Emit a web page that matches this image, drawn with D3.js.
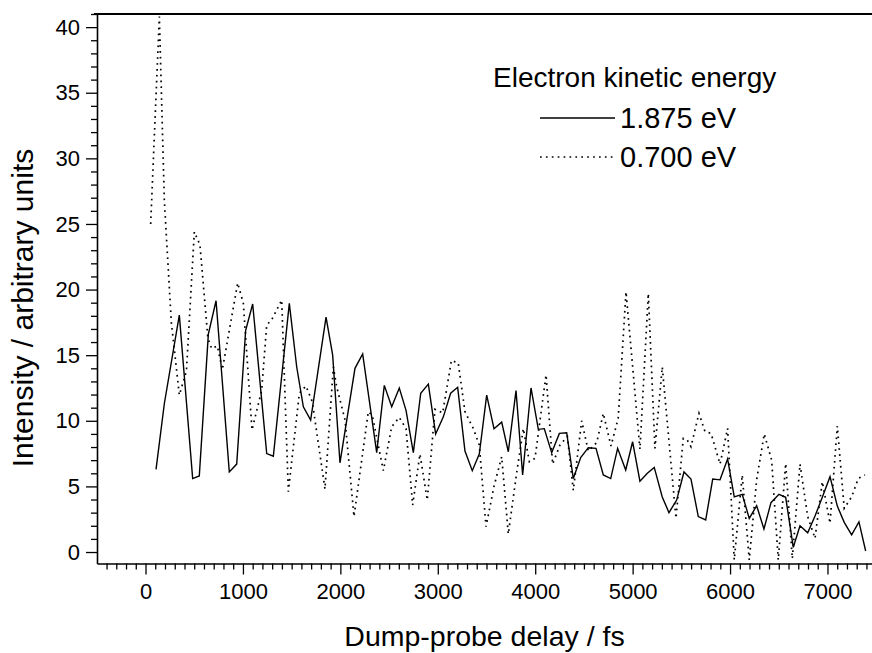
<!DOCTYPE html>
<html><head><meta charset="utf-8">
<script src="https://cdn.jsdelivr.net/npm/d3@7"></script>
<style>body{margin:0;background:#fff}</style>
</head><body>
<svg id="chart" width="872" height="653"></svg>
<script>
// ---- data ----
const solidDelay = [108,193,347,484,552,645,724,860,936,1028,1100,1244,1312,1476,1552,1620,1695,1853,1921,1996,2150,2229,2373,2451,2527,2605,2674,2749,2825,2903,2978,3057,3132,3204,3279,3354,3426,3502,3577,3656,3724,3803,3871,3957,4032,4093,4169,4248,4323,4391,4467,4545,4624,4699,4775,4846,4929,5000,5075,5151,5222,5304,5373,5452,5527,5599,5674,5750,5822,5897,5975,6043,6125,6197,6273,6348,6420,6502,6571,6649,6718,6797,6872,6947,7026,7101,7172,7248,7323,7392];
const solidIntensity = [6.3,11.3,18.05,5.6,5.8,16.6,19.15,6.1,6.7,16.9,18.9,7.5,7.3,18.95,14.1,11.07,10.06,17.9,15.0,6.8,14.0,15.1,7.57,12.7,11.07,12.5,10.8,7.57,12.1,12.8,9.0,10.3,12.1,12.55,7.7,6.2,7.47,11.96,9.4,9.9,7.64,12.3,5.87,12.5,9.35,9.4,7.57,9.04,9.09,5.6,7.2,7.95,7.9,5.87,5.6,7.9,6.25,8.4,5.4,6.0,6.45,4.2,3.0,3.96,6.1,5.56,2.7,2.44,5.56,5.5,7.09,4.2,4.4,2.56,3.53,1.75,3.76,4.4,4.17,0.36,2.0,1.47,2.74,4.17,5.74,3.5,2.26,1.3,2.3,0.08];

const dottedDelay = [53,142,193,265,347,420,501,559,640,679,737,789,946,1004,1093,1192,1244,1295,1398,1466,1579,1647,1712,1842,1928,1962,2048,2140,2287,2328,2441,2527,2605,2674,2742,2817,2892,2971,3050,3140,3210,3279,3365,3426,3495,3577,3656,3724,3809,3878,3940,3998,4111,4179,4254,4330,4391,4477,4545,4631,4699,4778,4852,4932,5075,5161,5229,5304,5445,5520,5561,5599,5681,5743,5805,5897,5975,6043,6125,6197,6273,6351,6427,6495,6571,6639,6718,6797,6872,6947,7026,7101,7172,7248,7316,7385];
const dottedIntensity = [25.0,40.8,26.8,17.5,11.96,13.8,24.4,23.4,16.3,15.5,15.7,13.9,20.5,18.95,9.3,12.3,17.3,17.7,19.2,4.6,12.1,12.65,11.45,4.8,14.1,12.6,10.06,2.7,10.7,10.4,6.2,9.55,10.26,9.4,3.58,7.47,3.96,10.87,10.6,14.6,14.4,10.7,9.4,8.15,1.93,5.0,7.26,1.37,6.0,9.4,6.88,7.14,13.5,6.7,8.15,8.8,4.7,10.0,7.7,8.33,10.57,8.08,10.2,19.83,7.83,19.7,7.9,14.1,2.57,8.66,8.53,8.02,10.57,9.17,9.04,6.7,9.42,-0.6,5.87,-0.6,5.5,9.0,7.0,-0.6,6.75,-0.5,6.7,2.7,1.04,5.36,2.19,9.6,3.33,4.2,5.6,5.87];

const xMajorTicks = [0,1000,2000,3000,4000,5000,6000,7000];
const yMajorTicks = [0,5,10,15,20,25,30,35,40];
const legendTitle = "Electron kinetic energy";
const legendLabels = ["1.875 eV","0.700 eV"];
const xTitle = "Dump-probe delay / fs";
const yTitle = "Intensity / arbitrary units";

// ---- layout ----
const font = "'Liberation Sans', Arial, Helvetica, sans-serif";
const L = 97, R = 872, T = 14, B = 563.5;
const svg = d3.select("#chart");
const x = d3.scaleLinear().domain([-498, 7457]).range([L, R]);
const y = d3.scaleLinear().domain([-0.875, 41]).range([B, T]);

svg.append("defs").append("clipPath").attr("id","plot")
  .append("rect").attr("x",L).attr("y",T).attr("width",R-L).attr("height",B-T);

// minor ticks
const xMinor = d3.range(-400, 7500, 100).filter(v => v % 1000 !== 0);
const yMinor = d3.range(0, 42, 1).filter(v => v % 5 !== 0);

const gxMin = svg.append("g").attr("transform",`translate(0,${B})`)
  .call(d3.axisBottom(x).tickValues(xMinor).tickSize(6).tickFormat(""));
gxMin.select(".domain").remove();
const gx = svg.append("g").attr("transform",`translate(0,${B})`)
  .call(d3.axisBottom(x).tickValues(xMajorTicks).tickSize(11).tickPadding(9).tickSizeOuter(0).tickFormat(d3.format("d")));
const gyMin = svg.append("g").attr("transform",`translate(${L},0)`)
  .call(d3.axisLeft(y).tickValues(yMinor).tickSize(6).tickFormat(""));
gyMin.select(".domain").remove();
const gy = svg.append("g").attr("transform",`translate(${L},0)`)
  .call(d3.axisLeft(y).tickValues(yMajorTicks).tickSize(11).tickPadding(6).tickSizeOuter(0).tickFormat(d3.format("d")));

svg.selectAll(".tick line").attr("stroke","#000").attr("stroke-width",1.3);
svg.selectAll(".domain").attr("stroke","#000").attr("stroke-width",1.6);
svg.selectAll("g").attr("font-size",null).attr("font-family",null);
svg.selectAll(".tick text").attr("font-family",font).attr("font-size",22).attr("fill","#000");

// top border
svg.append("line").attr("x1",L-3).attr("x2",R).attr("y1",T).attr("y2",T)
  .attr("stroke","#000").attr("stroke-width",2.2);

// lines
const solidData = solidDelay.map((d,i)=>[d, solidIntensity[i]]);
const dottedData = dottedDelay.map((d,i)=>[d, dottedIntensity[i]]);
const line = d3.line().x(d=>x(d[0])).y(d=>y(d[1]));
const plot = svg.append("g").attr("clip-path","url(#plot)");
plot.append("path").datum(dottedData).attr("d",line).attr("fill","none")
  .attr("stroke","#000").attr("stroke-width",1.7).attr("stroke-dasharray","1.7,4.2");
plot.append("path").datum(solidData).attr("d",line).attr("fill","none")
  .attr("stroke","#000").attr("stroke-width",1.4).attr("stroke-linejoin","miter");

// axis titles
svg.append("text").attr("x",(L+R)/2).attr("y",646).attr("text-anchor","middle")
  .attr("font-family",font).attr("font-size",28.5).text(xTitle);
svg.append("text").attr("transform","translate(33,308) rotate(-90)").attr("text-anchor","middle")
  .attr("font-family",font).attr("font-size",30).text(yTitle);

// legend
const lg = svg.append("g");
lg.append("text").attr("x",493).attr("y",87).attr("font-family",font).attr("font-size",28).text(legendTitle);
const rows = [{y:118, dash:null},{y:157, dash:"1.7,4.2"}];
rows.forEach((r,i)=>{
  const ln = lg.append("line").attr("x1",540).attr("x2",615).attr("y1",r.y).attr("y2",r.y)
    .attr("stroke","#000").attr("stroke-width", r.dash ? 1.7 : 1.4);
  if (r.dash) ln.attr("stroke-dasharray", r.dash);
  lg.append("text").attr("x",620).attr("y",r.y+10).attr("font-family",font).attr("font-size",29).text(legendLabels[i]);
});
</script>
</body></html>
